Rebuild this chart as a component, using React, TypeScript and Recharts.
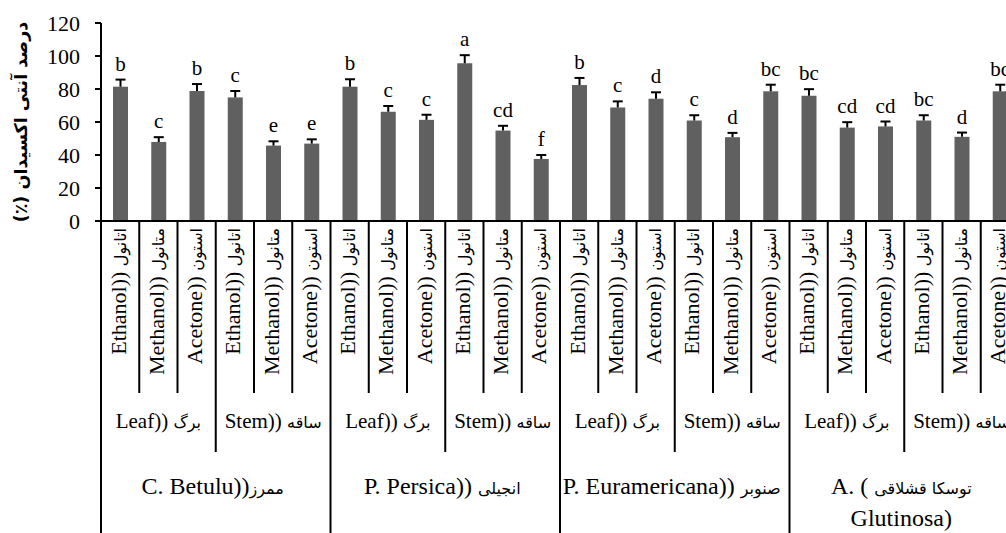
import { BarChart, Bar, XAxis, YAxis, Label } from 'recharts'

const species = ['C. Betulu))ممرز', 'P. Persica)) انجیلی', 'P. Euramericana)) صنوبر', 'A. ( توسکا قشلاقی|Glutinosa)']
const organs = ['Leaf)) برگ', 'Stem)) ساقه']
const solvents = ['Ethanol)) اتانول', 'Methanol)) متانول', 'Acetone)) استون']

const antioxidant = [81.4, 47.9, 78.8, 74.9, 45.7, 46.9, 81.4, 66.2, 61.3, 95.6, 54.8, 37.6, 82.4, 68.8, 74.1, 60.9, 50.8, 78.6, 75.9, 56.6, 57.3, 60.9, 51.0, 78.6]
const stdError = [4.3, 2.9, 4.2, 3.9, 2.6, 2.6, 4.5, 3.5, 3.1, 4.9, 2.9, 2.4, 4.3, 3.7, 3.9, 3.2, 2.6, 4.0, 4.0, 3.3, 3.0, 3.2, 2.6, 4.0]
const letters = ['b', 'c', 'b', 'c', 'e', 'e', 'b', 'c', 'c', 'a', 'cd', 'f', 'b', 'c', 'd', 'c', 'd', 'bc', 'bc', 'cd', 'cd', 'bc', 'd', 'bc']

const yTicks = [0, 20, 40, 60, 80, 100, 120]

const data = antioxidant.map((value, i) => ({
  key: `c${i}`,
  solvent: solvents[i % 3],
  organ: organs[Math.floor(i / 3) % 2],
  species: species[Math.floor(i / 6)],
  value,
  err: stdError[i],
  letter: letters[i],
}))

const CHART_W = 1040
const CHART_H = 533
const Y_AXIS_W = 101
const RIGHT = 21
const STEP = (CHART_W - Y_AXIS_W - RIGHT) / data.length

const serif = '"Liberation Serif", "Times New Roman", serif'
const persianFont = '"DejaVu Sans", sans-serif'

// split a label into latin / persian runs so the persian can be drawn smaller
function MixedText({ text, latinSize, persianSize }: { text: string; latinSize: number; persianSize: number }) {
  const parts = text.split(/([\u0600-\u06FF][\u0600-\u06FF\s]*)/).filter((p) => p.length > 0)
  return (
    <>
      {parts.map((p, k) =>
        /[\u0600-\u06FF]/.test(p) ? (
          <tspan key={k} style={{ fontSize: persianSize, fontFamily: persianFont }}>
            {p}
          </tspan>
        ) : (
          <tspan key={k} style={{ fontSize: latinSize, fontFamily: serif }}>
            {p}
          </tspan>
        ),
      )}
    </>
  )
}

function BarWithError(props: any) {
  const { x, y, width, height, payload } = props
  if (!payload || !height) return null
  const perUnit = height / payload.value
  const top = y - payload.err * perUnit
  const cx = x + width / 2
  return (
    <g>
      <rect x={x} y={y} width={width} height={height} fill="#606060" />
      <line x1={cx} x2={cx} y1={y} y2={top} stroke="#000" strokeWidth={2} />
      <line x1={cx - 5} x2={cx + 5} y1={top} y2={top} stroke="#000" strokeWidth={2} />
      <text x={cx} y={top - 9} textAnchor="middle" style={{ fontSize: 21, fontFamily: serif }} fill="#000">
        {payload.letter}
      </text>
    </g>
  )
}

function CategoryTick(props: any) {
  const { x, y, index } = props
  const d = data[index]
  if (!d) return null
  const left = x - STEP / 2
  const right = x + STEP / 2
  const lineLen = index % 6 === 0 ? 330 : index % 3 === 0 ? 231 : 172
  const base = { fontFamily: serif }
  return (
    <g>
      <line x1={left} x2={left} y1={y} y2={y + lineLen} stroke="#000" strokeWidth={2} />
      {index === data.length - 1 && (
        <line x1={right} x2={right} y1={y} y2={y + 330} stroke="#000" strokeWidth={2} />
      )}
      <text
        transform={`translate(${x},${y + 7}) rotate(-90)`}
        textAnchor="end"
        dy="0.35em"
        fill="#000"
        style={base}
      >
        <MixedText text={d.solvent} latinSize={22} persianSize={16} />
      </text>
      {index % 3 === 1 && (
        <text x={x} y={y + 207} textAnchor="middle" fill="#000" style={base}>
          <MixedText text={d.organ} latinSize={21} persianSize={16} />
        </text>
      )}
      {index % 6 === 2 &&
        d.species.split('|').map((line: string, k: number) => (
          <text key={k} x={right - 3} y={y + 273 + k * 32} textAnchor="middle" fill="#000" style={base}>
            <MixedText text={line} latinSize={24} persianSize={16} />
          </text>
        ))}
    </g>
  )
}

function YTitle(props: any) {
  const { viewBox } = props
  const cy = viewBox.y + viewBox.height / 2
  return (
    <text
      transform={`translate(21,${cy}) rotate(-90)`}
      textAnchor="middle"
      dy="0.35em"
      fill="#000"
      style={{ fontSize: 17.5, fontWeight: 'bold', fontFamily: persianFont }}
    >
      {'(٪) درصد آنتی اکسیدان'}
    </text>
  )
}

export default function App() {
  return (
    <div style={{ position: 'absolute', left: 0, top: 0, width: 1006, height: 533, overflow: 'hidden', background: '#fff' }}>
      <BarChart width={CHART_W} height={CHART_H} data={data} margin={{ top: 23, right: RIGHT, bottom: 0, left: 0 }}>
        <XAxis
          dataKey="key"
          height={312}
          interval={0}
          tickLine={false}
          tickSize={0}
          tickMargin={0}
          axisLine={{ stroke: '#000', strokeWidth: 2 }}
          tick={<CategoryTick />}
        />
        <YAxis
          domain={[0, 120]}
          ticks={yTicks}
          width={Y_AXIS_W}
          interval={0}
          tickSize={6}
          tickMargin={15}
          axisLine={{ stroke: '#000', strokeWidth: 2 }}
          tickLine={{ stroke: '#000', strokeWidth: 2 }}
          tick={{ fill: '#000', fontSize: 22, fontFamily: serif }}
        >
          <Label content={<YTitle />} />
        </YAxis>
        <Bar dataKey="value" barSize={15} shape={<BarWithError />} isAnimationActive={false} />
      </BarChart>
    </div>
  )
}
